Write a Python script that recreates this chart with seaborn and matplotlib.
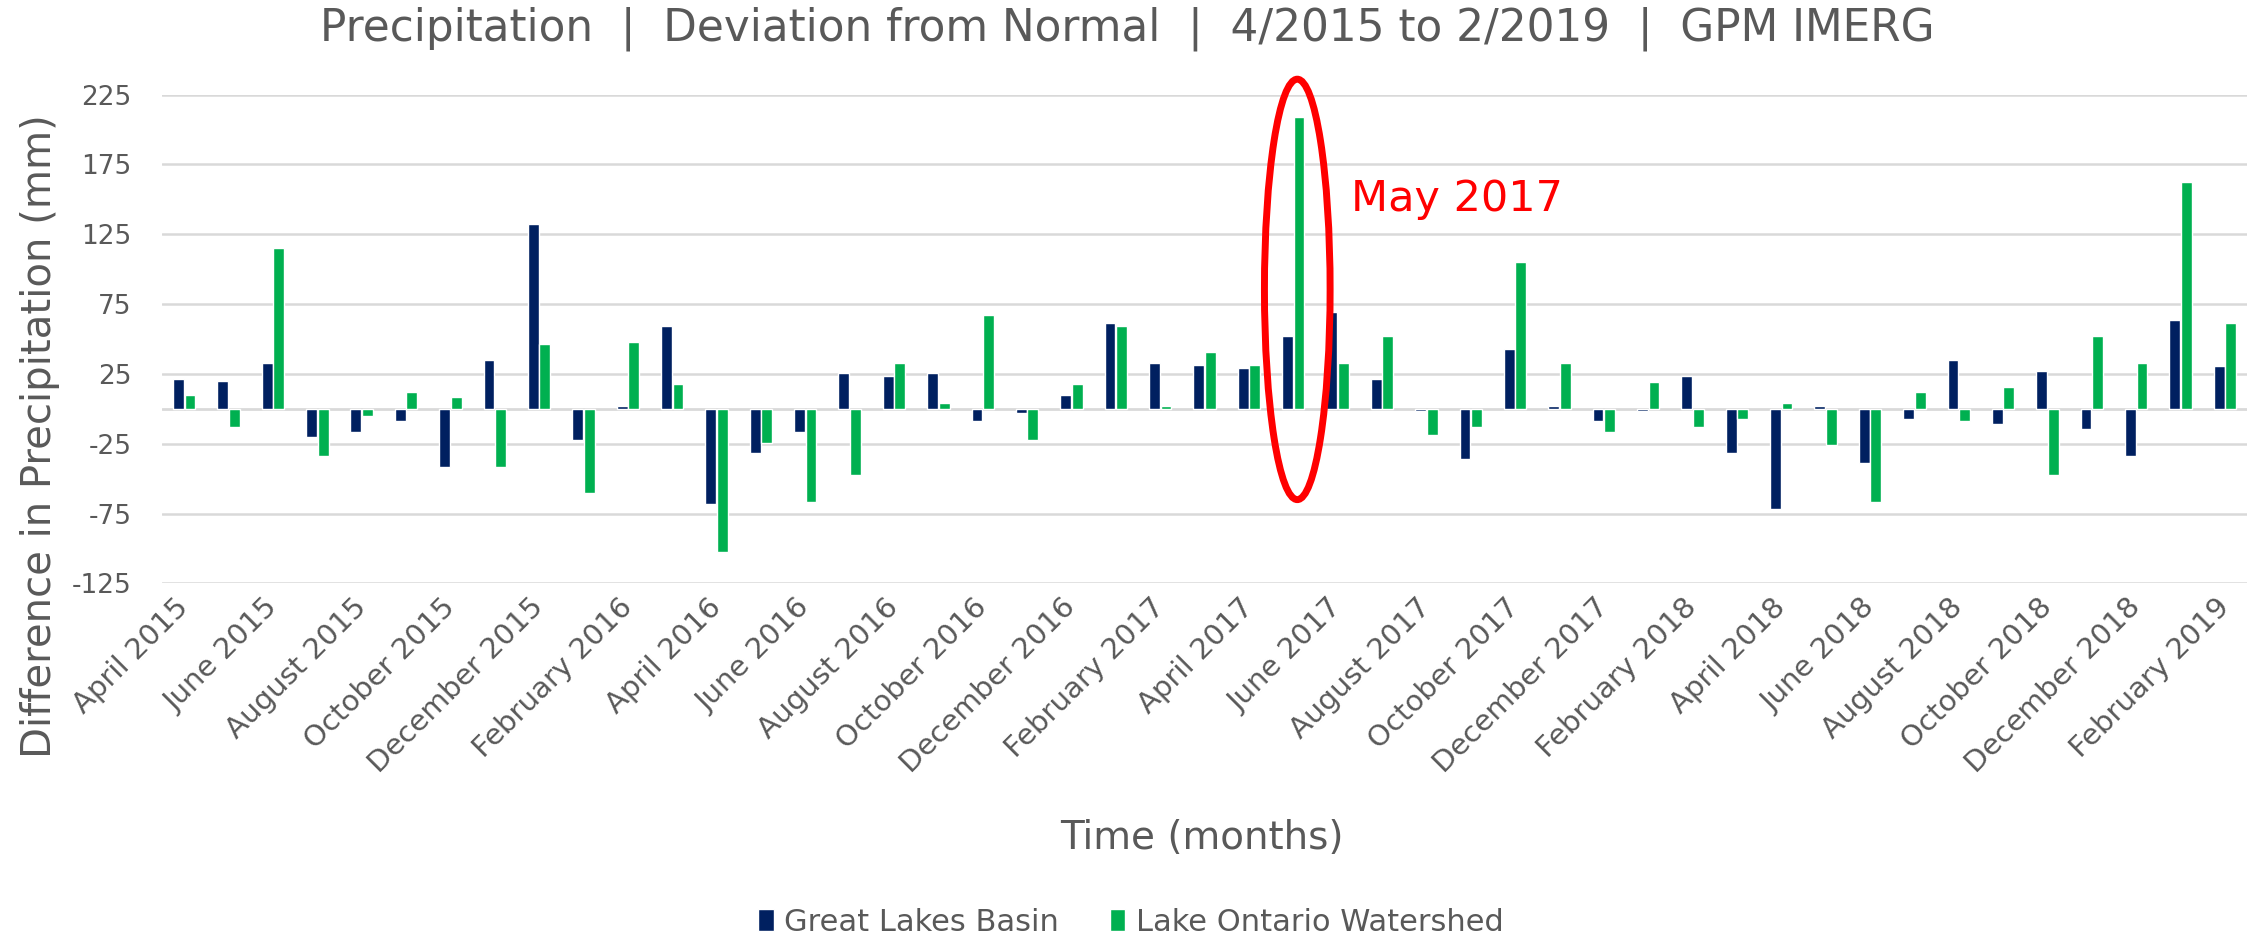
import pandas as pd
import matplotlib.pyplot as plt
import seaborn as sns
from matplotlib.patches import Ellipse

month_names = ['January', 'February', 'March', 'April', 'May', 'June', 'July',
               'August', 'September', 'October', 'November', 'December']

# April 2015 .. February 2019
months = []
for year in range(2015, 2020):
    for m in range(12):
        if (year == 2015 and m < 3) or (year == 2019 and m > 1):
            continue
        months.append(f'{month_names[m]} {year}')

great_lakes = [21.7, 19.7, 33.0, -20.5, -16.6, -9.0, -41.4, 35.0, 132.3,
               -22.3, 2.3, 59.6, -68.0, -31.7, -16.6, 25.3, 23.3, 25.3, -8.7,
               -3.0, 10.0, 61.7, 33.0, 31.2, 29.4, 52.2, 69.3, 21.7, -1.5,
               -35.6, 42.7, 2.3, -8.7, -1.5, 23.3, -31.7, -71.6, 2.3, -39.1,
               -7.2, 35.0, -10.7, 27.4, -14.3, -33.8, 63.7, 31.0]

lake_ontario = [10.2, -12.8, 115.4, -33.8, -5.1, 11.8, 8.2, -41.4, 46.6,
                -60.4, 48.1, 17.9, -102.6, -24.3, -66.5, -47.1, 33.0, 4.3, 67.3,
                -22.3, 17.9, 59.6, 2.3, 40.4, 31.2, 208.8, 33.0, 52.2, -18.4,
                -12.8, 105.4, 33.0, -16.6, 19.4, -12.8, -7.2, 4.3, -26.1, -66.5,
                11.8, -8.7, 15.9, -47.1, 52.2, 33.0, 162.7, 61.7]

series_names = ['Great Lakes Basin', 'Lake Ontario Watershed']
y_ticks = [-125, -75, -25, 25, 75, 125, 175, 225]

df = pd.DataFrame({
    'month': months * 2,
    'series': [series_names[0]] * len(months) + [series_names[1]] * len(months),
    'value': great_lakes + lake_ontario,
})

grey = '#595959'
sns.set_style("white")
plt.rcParams['font.family'] = ['DejaVu Sans']

fig = plt.figure(figsize=(22.57, 9.41), dpi=100)
ax = fig.add_axes([0.0718, 0.380, 0.9238, 0.5195])

ax.set_axisbelow(True)
for t in y_ticks:
    ax.axhline(t, color='#D9D9D9', lw=1.8, zorder=0)
ax.axhline(0, color='#D9D9D9', lw=2, zorder=0)

sns.barplot(data=df, x='month', y='value', hue='series', order=months,
            hue_order=series_names, palette=['#002060', '#00B050'],
            width=0.52, gap=0.06, saturation=1, ax=ax, legend=True, zorder=2)

ax.set_ylim(-125, 225)
ax.set_xlim(-0.5, len(months) - 0.5)
ax.set_yticks(y_ticks)
ax.set_yticklabels([str(t) for t in y_ticks], fontsize=19, color=grey)
ax.set_xticks(range(0, len(months), 2))
ax.set_xticklabels(months[::2], rotation=45, ha='right', va='center',
                   rotation_mode='anchor', fontsize=21, color=grey)
ax.tick_params(axis='y', length=0, pad=22)
ax.tick_params(axis='x', length=0, pad=14)
for s in ax.spines.values():
    s.set_visible(False)

ax.set_xlabel('')
ax.set_ylabel('')
fig.text(0.5325, 0.109, 'Time (months)', ha='center', va='center',
         fontsize=28, color=grey)
fig.text(0.0177, 0.536, 'Difference in Precipitation (mm)', ha='center',
         va='center', rotation=90, fontsize=29, color=grey)
fig.text(0.4995, 0.969, 'Precipitation  |  Deviation from Normal  |  4/2015 to 2/2019  |  GPM IMERG',
         ha='center', va='center', fontsize=31.5, color=grey)

# highlight May 2017
ax.add_patch(Ellipse((25.09, 85.5), width=1.48, height=301, fill=False,
                     edgecolor='#FF0000', lw=5, zorder=5, clip_on=False))
ax.text(26.31, 141.8, 'May 2017', color='#FF0000', fontsize=31,
        ha='left', va='baseline')

handles, labels = ax.get_legend_handles_labels()
ax.legend_.remove()
fig.legend(handles, labels, loc='center', bbox_to_anchor=(0.501, 0.02), ncol=2,
           frameon=False, fontsize=22, labelcolor=grey, handlelength=0.5,
           handleheight=0.75, handletextpad=0.35, columnspacing=1.65)

plt.savefig('out.png', dpi=100)
